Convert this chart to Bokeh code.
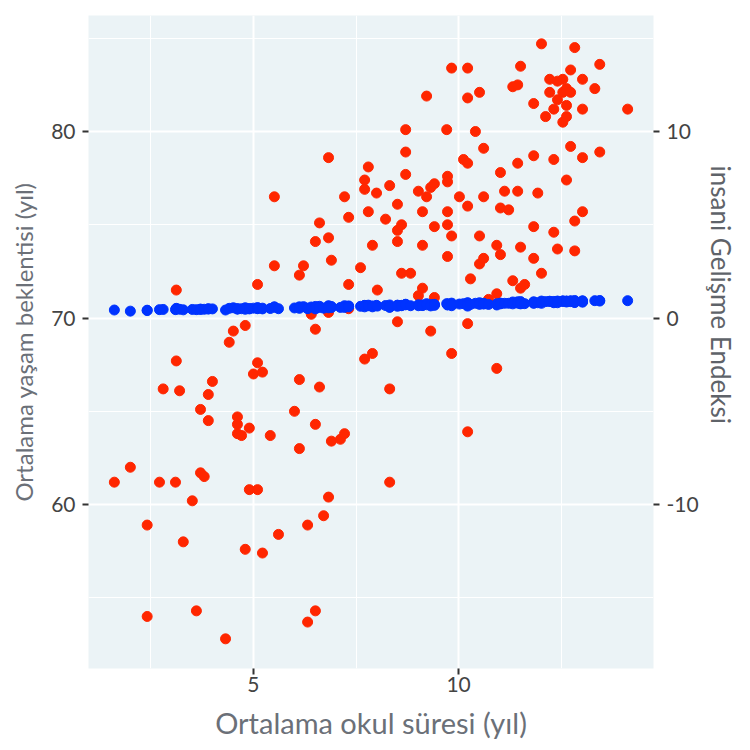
from bokeh.plotting import figure
from bokeh.models import Range1d, LinearAxis, FixedTicker, Title
from bokeh.embed import file_html
from bokeh.resources import INLINE

# ortalama okul süresi (yıl)
okul = [
    1.61, 2.00, 2.41, 2.41, 2.71, 2.80, 3.12, 3.12, 3.10, 3.20,
    3.29, 3.51, 3.61, 3.71, 3.71, 3.80, 3.90, 3.90, 4.00, 4.32,
    4.41, 4.51, 4.61, 4.61, 4.61, 4.71, 4.80, 4.80, 4.90, 4.90,
    5.00, 5.10, 5.10, 5.10, 5.22, 5.22, 5.41, 5.51, 5.51, 5.61,
    6.00, 6.12, 6.12, 6.12, 6.22, 6.32, 6.32, 6.41, 6.51, 6.51,
    6.51, 6.51, 6.61, 6.61, 6.71, 6.83, 6.83, 6.83, 6.83, 6.90,
    6.90, 7.12, 7.22, 7.22, 7.32, 7.32, 7.32, 7.61, 7.71, 7.71,
    7.71, 7.80, 7.80, 7.90, 7.90, 8.00, 8.02, 8.22, 8.32, 8.32,
    8.32, 8.51, 8.51, 8.51, 8.51, 8.61, 8.61, 8.71, 8.71, 8.71,
    8.83, 9.02, 9.02, 9.12, 9.12, 9.12, 9.22, 9.22, 9.32, 9.32,
    9.41, 9.41, 9.41, 9.71, 9.73, 9.73, 9.73, 9.73, 9.73, 9.83,
    9.83, 9.83, 10.02, 10.12, 10.22, 10.22, 10.22, 10.22, 10.22, 10.22,
    10.29, 10.41, 10.51, 10.51, 10.51, 10.61, 10.61, 10.61, 10.73, 10.93,
    10.93, 10.93, 11.02, 11.02, 11.02, 11.12, 11.22, 11.32, 11.32, 11.44,
    11.44, 11.44, 11.51, 11.51, 11.51, 11.61, 11.83, 11.83, 11.83, 11.83,
    11.93, 12.02, 12.02, 12.12, 12.22, 12.22, 12.32, 12.32, 12.32, 12.41,
    12.41, 12.41, 12.54, 12.54, 12.54, 12.63, 12.63, 12.63, 12.63, 12.73,
    12.73, 12.73, 12.83, 12.83, 12.83, 13.02, 13.02, 13.02, 13.02, 13.32,
    13.44, 13.44, 14.12,
]

# ortalama yaşam beklentisi (yıl)
yasam = [
    61.2, 62.0, 58.9, 54.0, 61.2, 66.2, 71.5, 67.7, 61.2, 66.1,
    58.0, 60.2, 54.3, 65.1, 61.7, 61.5, 65.9, 64.5, 66.6, 52.8,
    68.7, 69.3, 64.7, 64.3, 63.8, 63.7, 69.6, 57.6, 64.1, 60.8,
    67.0, 71.8, 67.6, 60.8, 67.1, 57.4, 63.7, 76.5, 72.8, 58.4,
    65.0, 72.3, 66.7, 63.0, 72.8, 58.9, 53.7, 70.2, 74.1, 69.4,
    64.3, 54.3, 75.1, 66.3, 59.4, 78.6, 74.3, 70.3, 60.4, 73.1,
    63.4, 63.5, 76.5, 63.8, 75.4, 71.8, 70.5, 72.7, 77.4, 76.9,
    67.8, 78.1, 75.7, 73.9, 68.1, 76.7, 71.5, 75.3, 77.1, 66.2,
    61.2, 76.1, 74.7, 74.1, 69.8, 75.0, 72.4, 80.1, 78.9, 77.7,
    72.4, 76.8, 71.2, 75.7, 73.9, 71.6, 81.9, 76.5, 77.0, 69.3,
    77.2, 74.9, 71.1, 80.1, 77.6, 77.3, 75.7, 75.0, 73.3, 83.4,
    74.4, 68.1, 76.5, 78.5, 83.4, 81.8, 78.3, 76.0, 69.7, 63.9,
    72.1, 80.0, 82.1, 74.4, 72.9, 79.1, 76.5, 73.2, 71.0, 73.9,
    71.3, 67.3, 77.8, 75.9, 73.4, 76.8, 75.8, 82.4, 72.0, 82.5,
    78.3, 76.8, 83.5, 73.8, 71.6, 71.8, 81.5, 78.7, 74.9, 73.2,
    76.7, 84.7, 72.4, 80.8, 82.8, 82.1, 81.2, 78.5, 74.6, 82.7,
    81.7, 73.7, 82.8, 82.1, 80.5, 82.3, 81.4, 80.8, 77.4, 83.3,
    82.1, 79.2, 84.5, 75.2, 73.6, 82.8, 81.2, 78.6, 75.7, 82.3,
    83.6, 78.9, 81.2,
]

# insani gelişme endeksi
endeks = [
    0.43, 0.37, 0.40, 0.42, 0.45, 0.46, 0.52, 0.49, 0.45, 0.47,
    0.44, 0.46, 0.45, 0.48, 0.46, 0.47, 0.50, 0.48, 0.49, 0.43,
    0.52, 0.55, 0.50, 0.49, 0.48, 0.50, 0.55, 0.47, 0.51, 0.49,
    0.53, 0.56, 0.52, 0.50, 0.53, 0.49, 0.51, 0.60, 0.58, 0.50,
    0.54, 0.60, 0.56, 0.52, 0.61, 0.53, 0.50, 0.59, 0.62, 0.58,
    0.55, 0.49, 0.63, 0.57, 0.53, 0.66, 0.63, 0.60, 0.55, 0.62,
    0.56, 0.57, 0.66, 0.57, 0.65, 0.62, 0.60, 0.63, 0.68, 0.67,
    0.60, 0.69, 0.66, 0.65, 0.60, 0.68, 0.64, 0.67, 0.70, 0.60,
    0.57, 0.69, 0.68, 0.67, 0.63, 0.68, 0.66, 0.74, 0.72, 0.71,
    0.66, 0.71, 0.66, 0.70, 0.69, 0.67, 0.77, 0.71, 0.72, 0.65,
    0.73, 0.71, 0.68, 0.77, 0.75, 0.74, 0.72, 0.72, 0.70, 0.80,
    0.72, 0.66, 0.75, 0.77, 0.82, 0.80, 0.77, 0.75, 0.70, 0.64,
    0.73, 0.79, 0.82, 0.75, 0.74, 0.79, 0.77, 0.75, 0.73, 0.76,
    0.74, 0.70, 0.80, 0.78, 0.76, 0.79, 0.79, 0.86, 0.76, 0.87,
    0.82, 0.80, 0.88, 0.78, 0.76, 0.77, 0.87, 0.84, 0.81, 0.79,
    0.82, 0.91, 0.79, 0.88, 0.90, 0.89, 0.89, 0.86, 0.82, 0.91,
    0.89, 0.82, 0.92, 0.90, 0.89, 0.91, 0.90, 0.89, 0.86, 0.92,
    0.91, 0.88, 0.94, 0.85, 0.83, 0.92, 0.91, 0.88, 0.85, 0.93,
    0.94, 0.91, 0.93,
]

y_ticks = [60, 70, 80]
y_minor = [55, 65, 75, 85]
y2_ticks = [-10, 0, 10]
x_ticks = [5, 10]
x_minor = [2.5, 7.5, 12.5]

font = "Lato"
tick_color = "#444444"
title_color = "#6b7078"

p = figure(
    width=745, height=745,
    x_range=Range1d(0.98, 14.75), y_range=Range1d(51.21, 86.22),
    min_border_left=88, min_border_right=92, min_border_top=15, min_border_bottom=77,
    output_backend="svg", toolbar_location=None,
)
p.extra_y_ranges = {"endeks": Range1d(-18.79, 16.22)}

p.background_fill_color = "#ebf3f6"
p.border_fill_color = "white"
p.outline_line_color = None

# eksenler
p.xaxis.ticker = FixedTicker(ticks=x_ticks, minor_ticks=x_minor)
p.yaxis.ticker = FixedTicker(ticks=y_ticks, minor_ticks=y_minor)
p.xaxis.axis_label = "Ortalama okul süresi (yıl)"
p.yaxis.axis_label = "Ortalama yaşam beklentisi (yıl)"

right = LinearAxis(y_range_name="endeks",
                   ticker=FixedTicker(ticks=y2_ticks),
                   major_label_overrides={-10: "-10", 0: "0", 10: "10"})
p.add_layout(right, "right")

for ax in [p.xaxis[0], p.yaxis[0], right]:
    ax.axis_line_color = None
    ax.minor_tick_line_color = None
    ax.major_tick_line_color = "#333333"
    ax.major_tick_line_width = 2
    ax.major_tick_in = 0
    ax.major_tick_out = 6
    ax.major_label_text_font = font
    ax.major_label_text_font_size = "21px"
    ax.major_label_text_color = tick_color
    ax.major_label_standoff = 7
    ax.axis_label_text_font = font
    ax.axis_label_text_font_size = "24px"
    ax.axis_label_text_font_style = "normal"
    ax.axis_label_text_color = title_color
    ax.axis_label_standoff = 10

p.xaxis.major_label_standoff = 2
p.xaxis.axis_label_standoff = 10
p.xaxis.axis_label_text_font_size = "29px"

# ızgara
for g in [p.xgrid[0], p.ygrid[0]]:
    g.grid_line_color = "white"
    g.grid_line_width = 2
    g.minor_grid_line_color = "white"
    g.minor_grid_line_width = 1

p.scatter(okul, yasam, size=10, fill_color="#ff2600", line_color="#ff2600")
p.scatter(okul, endeks, y_range_name="endeks", size=10,
          fill_color="#0033ff", line_color="#0033ff")

# sağ eksen başlığı
p.add_layout(Title(text="insani Gelişme Endeksi", align="left", offset=150, standoff=6,
                   text_font=font, text_font_size="26px", text_font_style="normal",
                   text_color="#5f6369"), "right")

open("out.html", "w").write(file_html(p, INLINE))
